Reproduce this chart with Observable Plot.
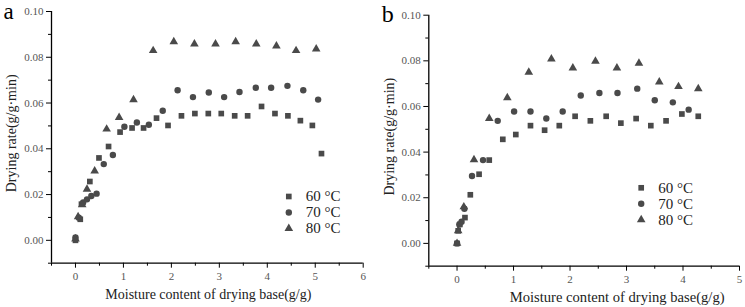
<!DOCTYPE html>
<html>
<head>
<meta charset="utf-8">
<script src="https://cdn.jsdelivr.net/npm/d3@7"></script>
<script src="https://cdn.jsdelivr.net/npm/@observablehq/plot@0.6"></script>
<style>
  html, body { margin: 0; padding: 0; background: #fff; }
  #wrap { display: flex; width: 745px; height: 307px; }
  svg { overflow: visible; }
</style>
</head>
<body>
<div id="wrap"></div>
<script>
// Panel a: drying rate vs. moisture content (dry basis)
const a60 = [[0,0.0000],[0.10,0.0092],[0.125,0.0158],[0.30,0.0257],[0.49,0.0360],[0.69,0.0410],[0.93,0.0473],[1.18,0.0491],[1.42,0.0491],[1.69,0.0534],[1.93,0.0502],[2.21,0.0544],[2.49,0.0554],[2.77,0.0554],[3.04,0.0554],[3.32,0.0544],[3.59,0.0544],[3.88,0.0585],[4.16,0.0554],[4.43,0.0544],[4.69,0.0523],[4.94,0.0502],[5.13,0.0379]];
const a70 = [[0,0.0012],[0.07,0.0099],[0.16,0.0165],[0.24,0.0179],[0.33,0.0194],[0.44,0.0204],[0.59,0.0333],[0.78,0.0373],[1.02,0.0496],[1.28,0.0515],[1.53,0.0505],[1.82,0.0566],[2.13,0.0656],[2.45,0.0626],[2.78,0.0646],[3.10,0.0626],[3.42,0.0648],[3.76,0.0667],[4.08,0.0667],[4.42,0.0675],[4.75,0.0656],[5.06,0.0615]];
const a80 = [[0,0.0006],[0.055,0.0103],[0.14,0.0155],[0.24,0.0223],[0.40,0.0303],[0.65,0.0486],[0.91,0.0537],[1.21,0.0614],[1.62,0.0829],[2.05,0.0868],[2.48,0.0858],[2.92,0.0858],[3.34,0.0868],[3.77,0.0858],[4.19,0.0849],[4.60,0.0829],[5.02,0.0836]];

// Panel b
const b60 = [[0,0.0000],[0.02,0.0055],[0.05,0.0083],[0.14,0.0113],[0.235,0.0213],[0.39,0.0303],[0.57,0.0365],[0.81,0.0456],[1.04,0.0477],[1.30,0.0516],[1.55,0.0496],[1.81,0.0516],[2.09,0.0557],[2.36,0.0537],[2.64,0.0557],[2.90,0.0527],[3.17,0.0547],[3.43,0.0516],[3.70,0.0537],[3.98,0.0567],[4.27,0.0557]];
const b70 = [[0,0.0000],[0.04,0.0083],[0.08,0.0095],[0.13,0.0152],[0.265,0.0295],[0.46,0.0365],[0.72,0.0537],[1.01,0.0578],[1.30,0.0578],[1.58,0.0547],[1.87,0.0578],[2.19,0.0648],[2.52,0.0659],[2.84,0.0659],[3.19,0.0678],[3.50,0.0627],[3.82,0.0618],[4.10,0.0586]];
const b80 = [[0,0.0000],[0.02,0.0055],[0.12,0.0160],[0.30,0.0367],[0.57,0.0547],[0.89,0.0638],[1.27,0.0750],[1.67,0.0808],[2.05,0.0769],[2.45,0.0798],[2.83,0.0769],[3.22,0.0789],[3.58,0.0707],[3.92,0.0687],[4.27,0.0678]];

const seriesLabels = ["60 °C", "70 °C", "80 °C"];
const symbols = ["square", "circle", "triangle"];

const yDomain = [-0.01, 0.10];
const yMajor = [0, 0.02, 0.04, 0.06, 0.08, 0.10];
const yMinor = [-0.01, 0.01, 0.03, 0.05, 0.07, 0.09];
const xDomainA = [-0.5, 6];
const xMajorA = [0, 1, 2, 3, 4, 5, 6];
const xMinorA = [-0.5, 0.5, 1.5, 2.5, 3.5, 4.5, 5.5];
const xDomainB = [-0.5, 5];
const xMajorB = [0, 1, 2, 3, 4, 5];
const xMinorB = [-0.5, 0.5, 1.5, 2.5, 3.5, 4.5];

const markFill = "#4a4a4a";
const tickColor = "#555";
const serif = "'Liberation Serif', 'DejaVu Serif', serif";

function panel(cfg) {
  const series = [cfg.s60, cfg.s70, cfg.s80];
  const dots = series.map((s, i) =>
    Plot.dot(s, {x: d => d[0], y: d => d[1], symbol: symbols[i], r: cfg.r, fill: markFill, stroke: "none"})
  );
  const legend = seriesLabels.flatMap((lab, i) => [
    Plot.dot([lab], {frameAnchor: "top-left", dx: cfg.legX, dy: cfg.legY + i * 16, symbol: symbols[i], r: cfg.r, fill: markFill, stroke: "none"}),
    Plot.text([lab], {frameAnchor: "top-left", dx: cfg.legX + 17, dy: cfg.legY + i * 16, text: d => d, textAnchor: "start", lineAnchor: "middle", fontSize: 15, fontFamily: serif, fill: "#222"})
  ]);
  return Plot.plot({
    width: cfg.width,
    height: 307,
    marginLeft: cfg.ml,
    marginRight: cfg.mr,
    marginTop: cfg.mt,
    marginBottom: cfg.mb,
    style: {fontFamily: serif, background: "white", overflow: "visible"},
    x: {domain: cfg.xDomain},
    y: {domain: yDomain},
    marks: [
      // minor ticks
      Plot.axisY(yMinor, {tickSize: 3, text: null, stroke: "#000"}),
      Plot.axisX(cfg.xMinor, {tickSize: 3, text: null, stroke: "#000"}),
      // major ticks with labels
      Plot.axisY(yMajor, {tickSize: 5, tickPadding: 3, stroke: "#000", fill: tickColor, fontSize: 11, tickFormat: d3.format(".2f"), label: null, style: "letter-spacing: 1px"}),
      Plot.axisX(cfg.xMajor, {tickSize: 5, tickPadding: 4, stroke: "#000", fill: tickColor, fontSize: 11, label: null}),
      // axis lines
      Plot.ruleX([cfg.xDomain[0]], {stroke: "#000", strokeWidth: 1.3}),
      Plot.ruleY([yDomain[0]], {stroke: "#000", strokeWidth: 1.3}),
      ...dots,
      ...legend,
      // axis titles
      Plot.text(["Drying rate(g/g·min)"], {frameAnchor: "left", dx: cfg.yLabDx, dy: cfg.yLabDy, rotate: -90, textAnchor: "middle", lineAnchor: "middle", text: d => d, fontSize: 14, fontFamily: serif, fill: "#222"}),
      Plot.text(["Moisture content of drying base(g/g)"], {frameAnchor: "bottom", dx: cfg.xLabDx, dy: cfg.xLabDy, lineAnchor: "middle", text: d => d, fontSize: cfg.xLabSize, fontFamily: serif, fill: "#222"}),
      // panel letter
      Plot.text([cfg.letter], {frameAnchor: "top-left", dx: cfg.letterDx, dy: cfg.letterDy, text: d => d, lineAnchor: "middle", fontSize: cfg.letterSize, fontFamily: serif, fill: "#000", textAnchor: "start"})
    ]
  });
}

const wrap = document.getElementById("wrap");
wrap.append(panel({
  s60: a60, s70: a70, s80: a80,
  width: 370, ml: 51, mr: 7.3, mt: 11, mb: 44.3,
  xDomain: xDomainA, xMajor: xMajorA, xMinor: xMinorA,
  legX: 237.3, legY: 185, r: 3.2,
  yLabDx: -39.5, yLabDy: -4, xLabDx: 1, xLabDy: 31.5, xLabSize: 14,
  letter: "a", letterDx: -48, letterDy: 0, letterSize: 23
}));
wrap.append(panel({
  s60: b60, s70: b70, s80: b80,
  width: 375, ml: 58.3, mr: 6, mt: 14.7, mb: 41.3,
  xDomain: xDomainB, xMajor: xMajorB, xMinor: xMinorB,
  legX: 212.4, legY: 172.6, r: 3.2,
  yLabDx: -39, yLabDy: -4, xLabDx: 33, xLabDy: 31, xLabSize: 14.6,
  letter: "b", letterDx: -47, letterDy: -1, letterSize: 24
}));
</script>
</body>
</html>
